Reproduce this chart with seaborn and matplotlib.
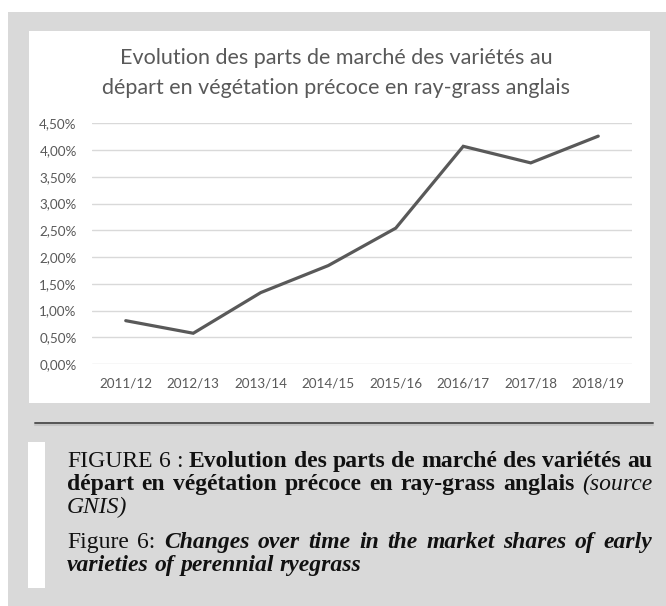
import matplotlib
matplotlib.use("Agg")
import matplotlib.pyplot as plt
import seaborn as sns
import pandas as pd
from matplotlib.patches import Rectangle
from matplotlib.lines import Line2D
from matplotlib.ticker import FuncFormatter

# ---------------- data ----------------
seasons = ["2011/12", "2012/13", "2013/14", "2014/15",
           "2015/16", "2016/17", "2017/18", "2018/19"]
shares = [0.81, 0.575, 1.335, 1.84, 2.54, 4.07, 3.76, 4.26]   # in %
y_ticks = [0.0, 0.5, 1.0, 1.5, 2.0, 2.5, 3.0, 3.5, 4.0, 4.5]
chart_title = ["Evolution des parts de marché des variétés au",
               "départ en végétation précoce en ray-grass anglais"]
caption_lines = [
    ([("FIGURE 6 :", "normal", "normal"),
      ("Evolution des parts de marché des variétés au", "bold", "normal")], True),
    ([("départ en végétation précoce en ray-grass anglais", "bold", "normal"),
      ("(source", "normal", "italic")], True),
    ([("GNIS)", "normal", "italic")], False),
    ([("Figure 6:", "normal", "normal"),
      ("Changes over time in the market shares of early", "bold", "italic")], True),
    ([("varieties of perennial ryegrass", "bold", "italic")], False),
]

W, H = 666, 606
sns.set_theme(style="white")
plt.rcParams['font.family'] = ['Lato', 'DejaVu Sans']

fig = plt.figure(figsize=(W / 100, H / 100), dpi=100)
fig.patch.set_facecolor("white")


def fx(x):
    return x / W


def fy(y):
    return 1 - y / H


# gray page background and white chart panel
fig.patches.append(Rectangle((fx(8), 0), (W - 8) / W, fy(12), transform=fig.transFigure,
                             facecolor="#d9d9d9", edgecolor="none", zorder=-2))
fig.patches.append(Rectangle((fx(29), fy(403)), (650 - 29) / W, (403 - 31) / H,
                             transform=fig.transFigure, facecolor="white",
                             edgecolor="none", zorder=-1))

# ---------------- chart ----------------
ax = fig.add_axes([fx(92), fy(364), (632 - 92) / W, (364 - 123.3) / H])
ax.set_zorder(5)
ax.set_facecolor("none")
df = pd.DataFrame({"season": seasons, "share": shares})
sns.lineplot(data=df, x="season", y="share", ax=ax, color="#595959",
             linewidth=2.3, sort=False)
for ln in ax.lines:
    ln.set_clip_on(False)
    ln.set_solid_joinstyle("miter")
ax.set_xlim(-0.5, len(seasons) - 0.5)
ax.set_ylim(y_ticks[0], y_ticks[-1])
ax.set_yticks(y_ticks)
ax.yaxis.set_major_formatter(FuncFormatter(lambda v, p: f"{v:.2f}%".replace(".", ",")))
ax.grid(axis="y", color="#d9d9d9", linewidth=1.0)
ax.grid(axis="x", visible=False)
ax.set_axisbelow(True)
for s in ax.spines.values():
    s.set_visible(False)
ax.tick_params(axis="both", length=0, labelsize=9.7, labelcolor="#595959")
ax.tick_params(axis="y", pad=11)
ax.tick_params(axis="x", pad=10)
ax.set_xlabel("")
ax.set_ylabel("")

renderer = fig.canvas.get_renderer()


def width_of(t):
    return t.get_window_extent(renderer).width


# title, fit width of first line ~433 px
probe = fig.text(0, 0, chart_title[0], fontsize=10)
tfs = 10 * 433 / width_of(probe)
probe.remove()
fig.text(fx(336), fy(58), chart_title[0], ha="center", va="center",
         fontsize=tfs, color="#595959")
fig.text(fx(336), fy(88), chart_title[1], ha="center", va="center",
         fontsize=tfs, color="#595959")

# separator line
fig.lines.append(Line2D([fx(35), fx(653)], [fy(424.5)] * 2, transform=fig.transFigure,
                        color="#c4c4c4", linewidth=1.5))
fig.lines.append(Line2D([fx(35), fx(653)], [fy(422.5)] * 2, transform=fig.transFigure,
                        color="#555555", linewidth=1.4))

# white bar next to the caption
fig.patches.append(Rectangle((fx(28), fy(588)), 17 / W, (588 - 442) / H,
                             transform=fig.transFigure, facecolor="white",
                             edgecolor="none", zorder=1))

# ---------------- caption (justified) ----------------
SERIF = "Liberation Serif"
x0, x1 = 67, 652


def make_words(parts, fs):
    out = []
    for text, weight, style in parts:
        for w in text.split(" "):
            t = fig.text(0, 0, w, fontsize=fs, family=SERIF, fontweight=weight,
                         fontstyle=style, color="#111111", va="baseline", ha="left")
            out.append(t)
    return out


def space_width(fs):
    a = fig.text(0, 0, "a a", fontsize=fs, family=SERIF)
    b = fig.text(0, 0, "aa", fontsize=fs, family=SERIF)
    w = width_of(a) - width_of(b)
    a.remove()
    b.remove()
    return w


# fit font size so the first caption line fills the width with normal spaces
ws = make_words(caption_lines[0][0], 10)
nat = sum(width_of(t) for t in ws) + space_width(10) * (len(ws) - 1)
for t in ws:
    t.remove()
cfs = 10 * (x1 - x0) / nat

baselines = [467, 490, 513, 548, 571]
sp = space_width(cfs)
for (parts, justify), yb in zip(caption_lines, baselines):
    ws = make_words(parts, cfs)
    widths = [width_of(t) for t in ws]
    if justify and len(ws) > 1:
        gap = (x1 - x0 - sum(widths)) / (len(ws) - 1)
    else:
        gap = sp
    x = x0
    for t, w in zip(ws, widths):
        t.set_position((fx(x), fy(yb)))
        x += w + gap

fig.savefig("out.png", dpi=100, facecolor=fig.get_facecolor())
